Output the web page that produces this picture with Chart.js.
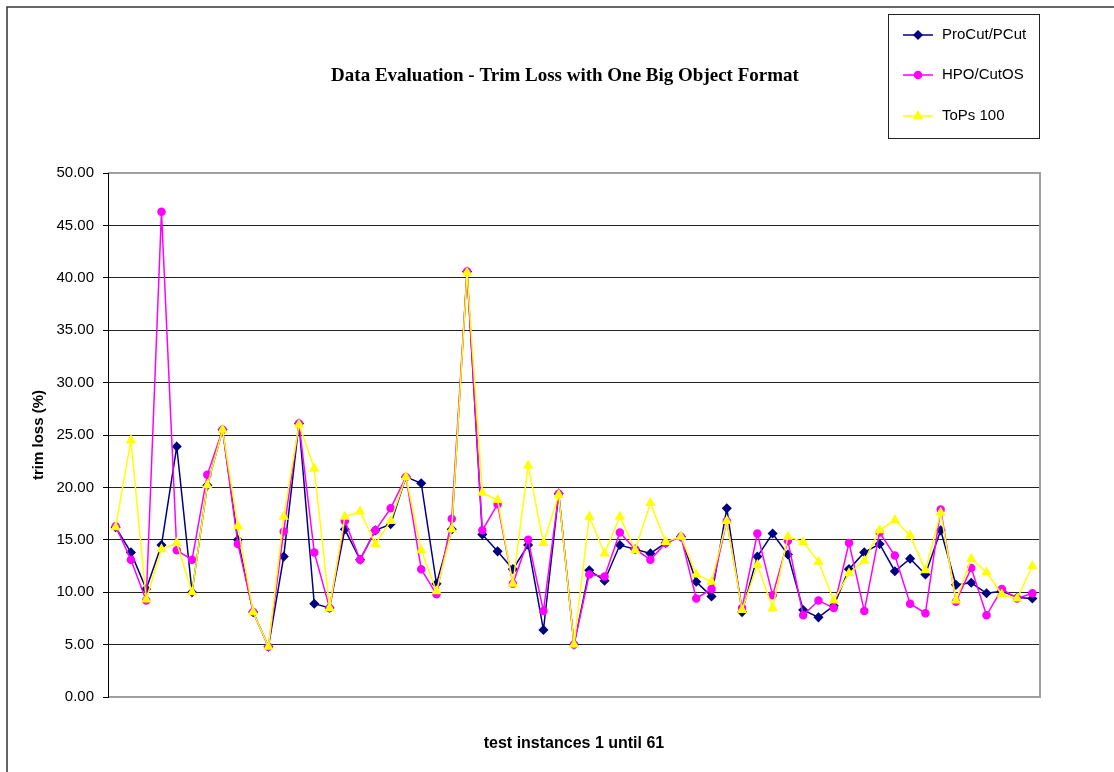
<!DOCTYPE html>
<html>
<head>
<meta charset="utf-8">
<title>Trim Loss</title>
<script src="https://cdn.jsdelivr.net/npm/chart.js"></script>
<style>
    body { margin: 0; background: #fff; }
    canvas { display: block; }
</style>
</head>
<body>
<canvas id="chart" width="1114" height="772"></canvas>
<script>
// Data
const instanceLabels = ["1", "2", "3", "4", "5", "6", "7", "8", "9", "10",
    "11", "12", "13", "14", "15", "16", "17", "18", "19", "20",
    "21", "22", "23", "24", "25", "26", "27", "28", "29", "30",
    "31", "32", "33", "34", "35", "36", "37", "38", "39", "40",
    "41", "42", "43", "44", "45", "46", "47", "48", "49", "50",
    "51", "52", "53", "54", "55", "56", "57", "58", "59", "60", "61"];

const proCut = [16.2, 13.8, 10.3, 14.5, 23.9, 10.0, 20.2, 25.5, 15.0, 8.1,
    4.8, 13.4, 26.1, 8.9, 8.5, 16.0, 13.1, 15.9, 16.5, 21.0,
    20.4, 10.8, 16.0, 40.6, 15.5, 13.9, 12.2, 14.5, 6.4, 19.4,
    5.0, 12.1, 11.1, 14.5, 14.1, 13.7, 14.7, 15.3, 11.0, 9.6,
    18.0, 8.1, 13.4, 15.6, 13.6, 8.3, 7.6, 8.7, 12.2, 13.8,
    14.6, 12.0, 13.2, 11.7, 15.9, 10.7, 10.9, 9.9, 10.1, 9.5, 9.4];

const hpoCutOS = [16.3, 13.1, 9.2, 46.3, 14.0, 13.1, 21.2, 25.5, 14.6, 8.1,
    4.8, 15.8, 26.1, 13.8, 8.5, 16.8, 13.1, 15.9, 18.0, 21.0,
    12.2, 9.8, 17.0, 40.6, 15.9, 18.4, 10.8, 15.0, 8.2, 19.4,
    5.0, 11.7, 11.5, 15.7, 14.1, 13.1, 14.7, 15.3, 9.4, 10.3,
    16.8, 8.5, 15.6, 9.7, 14.9, 7.8, 9.2, 8.5, 14.7, 8.2,
    15.7, 13.5, 8.9, 8.0, 17.9, 9.1, 12.3, 7.8, 10.3, 9.4, 9.9];

const tops100 = [16.2, 24.5, 9.3, 14.1, 14.7, 10.0, 20.2, 25.5, 16.3, 8.1,
    4.8, 17.2, 26.0, 21.8, 8.5, 17.2, 17.7, 14.6, 16.8, 21.0,
    14.0, 10.1, 16.0, 40.5, 19.5, 18.8, 10.8, 22.1, 14.7, 19.3,
    5.0, 17.2, 13.7, 17.2, 14.0, 18.5, 14.8, 15.3, 11.7, 11.0,
    16.8, 8.3, 12.6, 8.5, 15.3, 14.8, 12.9, 9.2, 11.8, 13.0,
    15.9, 16.9, 15.4, 12.1, 17.6, 9.2, 13.2, 11.9, 9.8, 9.4, 12.5];

const yTicks = [0, 5, 10, 15, 20, 25, 30, 35, 40, 45, 50];

// Style
const sansFont = "'Liberation Sans', Arial, sans-serif";
const serifFont = "'Liberation Serif', 'Times New Roman', serif";

// Plugin: outer frame, plot border, legend box
const frame = {
    id: "frame",
    beforeDraw(chart) {
        const ctx = chart.ctx;
        ctx.save();
        ctx.fillStyle = "#fff";
        ctx.fillRect(0, 0, chart.width, chart.height);
        ctx.strokeStyle = "#333";
        ctx.lineWidth = 1.5;
        ctx.strokeRect(7, 7, chart.width + 20, chart.height + 20);
        ctx.restore();
    },
    afterDraw(chart) {
        const ctx = chart.ctx;
        const a = chart.chartArea;
        ctx.save();
        // plot border (top, right, bottom)
        ctx.strokeStyle = "#a0a0a0";
        ctx.lineWidth = 2;
        ctx.beginPath();
        ctx.moveTo(a.left, a.top);
        ctx.lineTo(a.right, a.top);
        ctx.lineTo(a.right, a.bottom);
        ctx.lineTo(a.left, a.bottom);
        ctx.stroke();
        ctx.strokeStyle = "#000";
        ctx.lineWidth = 1;
        ctx.beginPath();
        ctx.moveTo(a.left + 0.5, a.top);
        ctx.lineTo(a.left + 0.5, a.bottom + 1);
        ctx.stroke();

        // legend
        ctx.strokeStyle = "#222";
        ctx.lineWidth = 1;
        ctx.strokeRect(888.5, 14.5, 151, 124);
        const rows = [35, 75, 116];
        chart.data.datasets.forEach((ds, i) => {
            const y = rows[i];
            ctx.strokeStyle = ds.borderColor;
            ctx.lineWidth = ds.borderWidth;
            ctx.beginPath();
            ctx.moveTo(903, y);
            ctx.lineTo(933, y);
            ctx.stroke();
            ctx.fillStyle = ds.pointBackgroundColor;
            ctx.strokeStyle = ds.pointBorderColor;
            Chart.helpers.drawPoint(ctx, {
                pointStyle: ds.pointStyle,
                radius: ds.pointRadius,
                rotation: 0,
                borderWidth: 1
            }, 918, y);
            ctx.fillStyle = "#000";
            ctx.font = "15px " + sansFont;
            ctx.textAlign = "left";
            ctx.textBaseline = "middle";
            ctx.fillText(ds.label, 942, y);
        });
        ctx.restore();
    }
};

// Chart
new Chart(document.querySelector("#chart"), {
    type: "line",
    data: {
        labels: instanceLabels,
        datasets: [
            {
                label: "ProCut/PCut",
                data: proCut,
                borderColor: "#000080",
                backgroundColor: "#000080",
                pointBackgroundColor: "#000080",
                pointBorderColor: "#000080",
                pointStyle: "rectRot",
                pointRadius: 4,
                borderWidth: 1.5,
                tension: 0,
                order: 2,
                yAxisID: "y"
            },
            {
                label: "HPO/CutOS",
                data: hpoCutOS,
                borderColor: "#ff00ff",
                backgroundColor: "#ff00ff",
                pointBackgroundColor: "#ff00ff",
                pointBorderColor: "#ff00ff",
                pointStyle: "circle",
                pointRadius: 3.5,
                borderWidth: 1.5,
                tension: 0,
                order: 1,
                yAxisID: "y"
            },
            {
                label: "ToPs 100",
                data: tops100,
                borderColor: "#ffff00",
                backgroundColor: "#ffff00",
                pointBackgroundColor: "#ffff00",
                pointBorderColor: "#ffff00",
                pointStyle: "triangle",
                pointRadius: 4.5,
                borderWidth: 1.5,
                tension: 0,
                order: 0,
                yAxisID: "y"
            }
        ]
    },
    options: {
        responsive: false,
        animation: false,
        devicePixelRatio: 1,
        layout: { padding: { left: 16, top: 0, right: 0, bottom: 0 } },
        plugins: {
            legend: { display: false },
            tooltip: { enabled: false },
            title: {
                display: true,
                text: "Data Evaluation - Trim Loss with One Big Object Format",
                color: "#000",
                font: { family: serifFont, size: 19, weight: "bold" },
                padding: { top: 64.6, bottom: 85.6 }
            }
        },
        scales: {
            x: {
                type: "category",
                offset: true,
                grid: { display: false },
                border: { display: false },
                ticks: { display: false },
                title: {
                    display: true,
                    text: "test instances 1 until 61",
                    color: "#000",
                    font: { family: sansFont, size: 16, weight: "bold" },
                    padding: { top: 0, bottom: 18.4 }
                },
                afterFit: (s) => { s.height = 75; }
            },
            y: {
                position: "left",
                min: 0,
                max: 50,
                afterBuildTicks: (s) => { s.ticks = yTicks.map(v => ({ value: v })); },
                grid: {
                    color: (c) => (c.tick && (c.tick.value === 0 || c.tick.value === 50)) ? "#a0a0a0" : "#222",
                    tickColor: "#000",
                    tickLength: 5,
                    lineWidth: 1
                },
                border: { display: false },
                ticks: {
                    color: "#000",
                    padding: 9,
                    font: { family: sansFont, size: 15 },
                    callback: (v) => Number(v).toFixed(2)
                },
                title: {
                    display: true,
                    text: "trim loss (%)",
                    color: "#000",
                    font: { family: sansFont, size: 15, weight: "bold" },
                    padding: { top: 14, bottom: 0 }
                },
                afterFit: (s) => { s.width = 92; }
            },
            yPad: {
                type: "linear",
                position: "right",
                display: true,
                grid: { display: false },
                border: { display: false },
                ticks: { display: false },
                afterFit: (s) => { s.width = 74; }
            }
        }
    },
    plugins: [frame]
});
</script>
</body>
</html>
